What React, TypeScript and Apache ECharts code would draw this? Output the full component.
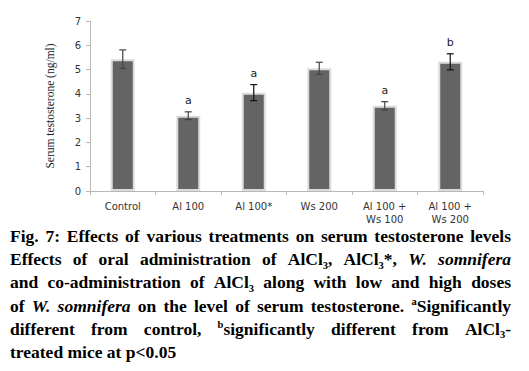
import React, { useEffect, useRef } from "react";
import * as echarts from "echarts";

const categories = ["Control", "Al 100", "Al 100*", "Ws 200", "Al 100 +\nWs 100", "Al 100 +\nWs 200"];
const means = [5.43, 3.1, 4.05, 5.05, 3.51, 5.32];
const errors = [0.38, 0.16, 0.33, 0.25, 0.17, 0.33];
const sigLetters = ["", "a", "a", "", "a", "b"];
const errColors = ["#444", "#444", "#111", "#444", "#444", "#111"];
const yTicks = [0, 1, 2, 3, 4, 5, 6, 7];

const captionLines = [
  "Fig. 7: Effects of various treatments on serum testosterone levels",
  "Effects of oral administration of AlCl{sub:3}, AlCl{sub:3}*, {i:W.} {i:somnifera}",
  "and co-administration of AlCl{sub:3} along with low and high doses",
  "of {i:W.} {i:somnifera} on the level of serum testosterone. {sup:a}Significantly",
  "different from control, {sup:b}significantly different from AlCl{sub:3}-",
  "treated mice at p<0.05",
];
const captionJustify = [true, true, true, true, true, false];

type Run = { t: string; k: "n" | "i" | "sub" | "sup" };

function parseWord(w: string): Run[] {
  const runs: Run[] = [];
  const re = /\{(i|sub|sup):([^}]*)\}/g;
  let last = 0;
  let m: RegExpExecArray | null;
  while ((m = re.exec(w))) {
    if (m.index > last) runs.push({ t: w.slice(last, m.index), k: "n" });
    runs.push({ t: m[2], k: m[1] as any });
    last = m.index + m[0].length;
  }
  if (last < w.length) runs.push({ t: w.slice(last), k: "n" });
  return runs;
}

const MAIN = 17.5;
const SMALL = 10.5;
const FAMILY = '"Liberation Serif", "Times New Roman", serif';

function fontOf(k: Run["k"]) {
  const size = k === "sub" || k === "sup" ? SMALL : MAIN;
  const it = k === "i" ? "italic " : "";
  return `${it}bold ${size}px ${FAMILY}`;
}

function buildCaption(): any[] {
  const canvas = document.createElement("canvas");
  const ctx = canvas.getContext("2d")!;
  const measure = (r: Run) => {
    ctx.font = fontOf(r.k);
    return ctx.measureText(r.t).width;
  };
  ctx.font = fontOf("n");
  const spaceW = ctx.measureText(" ").width;
  const left = 10;
  const right = 511;
  const firstBase = 242;
  const lh = 23.1;
  const els: any[] = [];
  captionLines.forEach((line, li) => {
    const words = line.split(" ").map(parseWord);
    const widths = words.map((runs) => runs.reduce((s, r) => s + measure(r), 0));
    const total = widths.reduce((a, b) => a + b, 0);
    const gap = captionJustify[li] && words.length > 1 ? (right - left - total) / (words.length - 1) : spaceW;
    const base = firstBase + li * lh;
    let x = left;
    words.forEach((runs, wi) => {
      let rx = x;
      runs.forEach((r) => {
        const size = r.k === "sub" || r.k === "sup" ? SMALL : MAIN;
        const b = r.k === "sub" ? base + 4 : r.k === "sup" ? base - 6 : base;
        els.push({
          type: "text",
          x: rx,
          y: b - 0.33 * size,
          silent: true,
          style: {
            text: r.t,
            font: fontOf(r.k),
            fill: "#000",
            align: "left",
            verticalAlign: "middle",
          },
        });
        rx += measure(r);
      });
      x += widths[wi] + gap;
    });
  });
  return els;
}

export default function App() {
  const ref = useRef<HTMLDivElement>(null);
  useEffect(() => {
    document.body.style.margin = "0";
    const chart = echarts.init(ref.current!, null, { renderer: "svg" });
    const sans = '"DejaVu Sans", Verdana, sans-serif';
    chart.setOption({
      animation: false,
      backgroundColor: "#fff",
      grid: { left: 90, right: 46, top: 21, bottom: 180 },
      xAxis: {
        type: "category",
        data: categories,
        axisLine: { lineStyle: { color: "#b8b8b8", width: 1 } },
        axisTick: { show: true, length: 4, lineStyle: { color: "#b8b8b8" } },
        axisLabel: { color: "#333", fontFamily: sans, fontSize: 10, margin: 9, lineHeight: 13, interval: 0 },
      },
      yAxis: {
        type: "value",
        min: yTicks[0],
        max: yTicks[yTicks.length - 1],
        interval: 1,
        name: "Serum testosterone (ng/ml)",
        nameLocation: "middle",
        nameGap: 34,
        nameTextStyle: { fontFamily: FAMILY, fontSize: 11.5, color: "#222" },
        axisLine: { show: true, lineStyle: { color: "#b8b8b8", width: 1 } },
        axisTick: { show: true, length: 4, lineStyle: { color: "#b8b8b8" } },
        axisLabel: { color: "#333", fontFamily: sans, fontSize: 10, margin: 9 },
        splitLine: { show: false },
      },
      series: [
        {
          type: "bar",
          data: means,
          barWidth: 24,
          itemStyle: { color: "#646464", borderColor: "#dcdcdc", borderWidth: 2 },
          z: 2,
        },
        {
          type: "custom",
          z: 5,
          data: means.map((m, i) => [i, m, errors[i]]),
          encode: { x: 0, y: 1 },
          renderItem: (params: any, api: any) => {
            const i = api.value(0);
            const m = api.value(1);
            const e = api.value(2);
            const top = api.coord([i, m + e]);
            const bot = api.coord([i, m - e]);
            const hw = 3.5;
            const col = errColors[params.dataIndex];
            const st = { stroke: col, lineWidth: 1.2 };
            const children: any[] = [
              { type: "line", shape: { x1: top[0], y1: top[1], x2: bot[0], y2: bot[1] }, style: st },
              { type: "line", shape: { x1: top[0] - hw, y1: top[1], x2: top[0] + hw, y2: top[1] }, style: st },
              { type: "line", shape: { x1: bot[0] - hw, y1: bot[1], x2: bot[0] + hw, y2: bot[1] }, style: st },
            ];
            const letter = sigLetters[params.dataIndex];
            if (letter) {
              children.push({
                type: "text",
                x: top[0],
                y: top[1] - 11,
                style: { text: letter, font: `11px ${sans}`, fill: "#222", align: "center", verticalAlign: "middle" },
              });
            }
            return { type: "group", children };
          },
        },
      ],
      graphic: buildCaption(),
    });
    return () => chart.dispose();
  }, []);
  return <div ref={ref} style={{ width: 529, height: 371 }} />;
}
